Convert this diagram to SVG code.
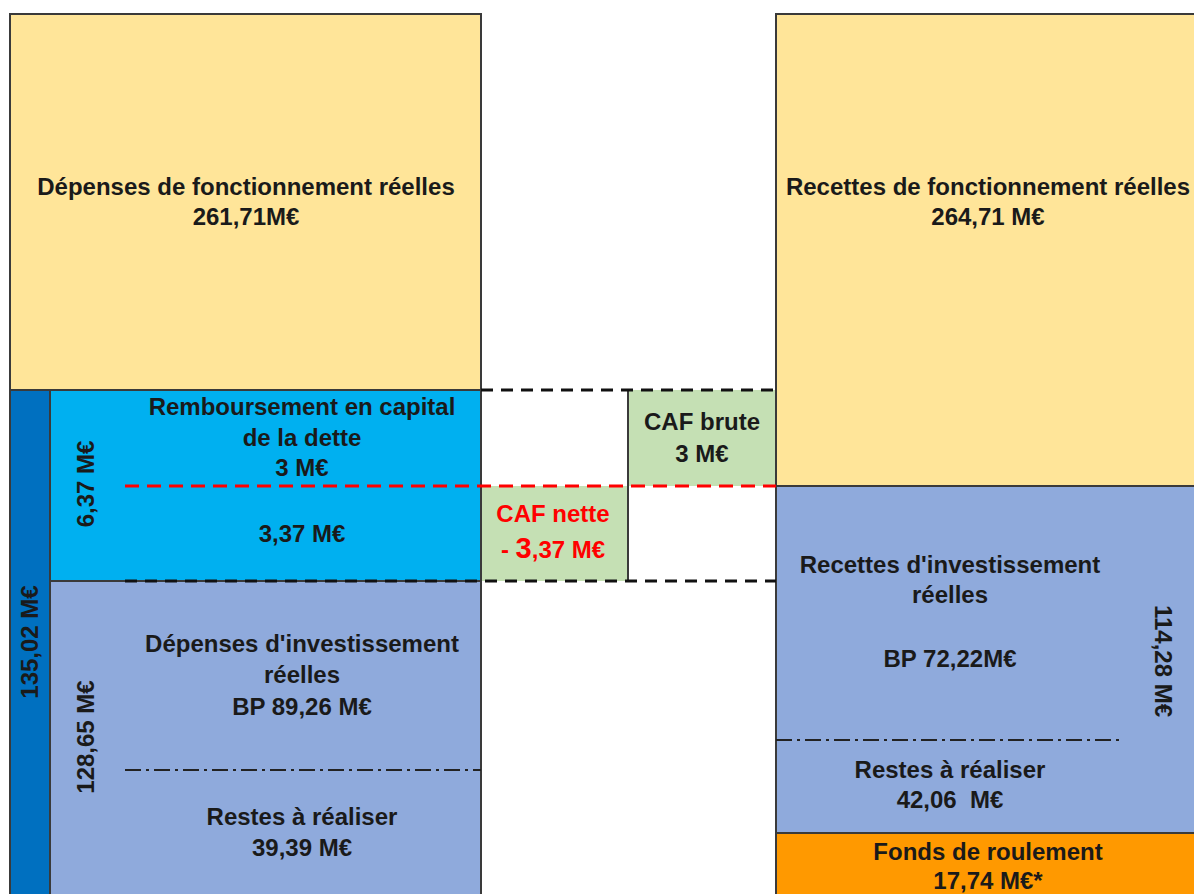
<svg xmlns="http://www.w3.org/2000/svg" width="1194" height="894" viewBox="0 0 1194 894">
<style>
.box{stroke:#3a3a3a;stroke-width:2}
.t{font-family:"Liberation Sans",Arial,sans-serif;font-weight:bold;font-size:24px;fill:#1a1a1a;text-anchor:middle}
.red{fill:#ff0000}
.dk{stroke:#111;stroke-width:3;stroke-dasharray:12 8;fill:none}
.rd{stroke:#ff0000;stroke-width:3;stroke-dasharray:14 8;fill:none}
.dd{stroke:#222;stroke-width:2;stroke-dasharray:16 5 3 5;fill:none}
.ln{stroke:#3a3a3a;stroke-width:2;fill:none}
</style>
<rect width="1194" height="894" fill="#ffffff"/>
<g id="dep-fonct">
<rect class="box" x="10" y="14" width="471" height="376" fill="#ffe599"/>
<text class="t" x="246" y="195">Dépenses de fonctionnement réelles</text>
<text class="t" x="246" y="225">261,71M€</text>
</g>
<g id="rec-fonct">
<rect class="box" x="776" y="14" width="430" height="472" fill="#ffe599"/>
<text class="t" x="988" y="195">Recettes de fonctionnement réelles</text>
<text class="t" x="988" y="225">264,71 M€</text>
</g>
<g id="total-left">
<rect class="box" x="10" y="390" width="40" height="510" fill="#0070c0"/>
<text class="t" transform="translate(38,642) rotate(-90)">135,02 M€</text>
</g>
<g id="rembours">
<rect class="box" x="50" y="390" width="431" height="191" fill="#00b0f0"/>
<text class="t" x="302" y="415">Remboursement en capital</text>
<text class="t" x="302" y="446">de la dette</text>
<text class="t" x="302" y="476">3 M€</text>
<text class="t" x="302" y="542">3,37 M€</text>
<text class="t" transform="translate(94,484) rotate(-90)">6,37 M€</text>
</g>
<g id="dep-invest">
<rect class="box" x="50" y="581" width="431" height="320" fill="#8faadc"/>
<text class="t" x="302" y="652">Dépenses d'investissement</text>
<text class="t" x="302" y="683">réelles</text>
<text class="t" x="302" y="715">BP 89,26 M€</text>
<text class="t" x="302" y="825">Restes à réaliser</text>
<text class="t" x="302" y="856">39,39 M€</text>
<text class="t" transform="translate(94,737) rotate(-90)">128,65 M€</text>
</g>
<g id="rec-invest">
<rect class="box" x="776" y="486" width="430" height="347" fill="#8faadc"/>
<text class="t" x="950" y="573">Recettes d'investissement</text>
<text class="t" x="950" y="603">réelles</text>
<text class="t" x="950" y="667">BP 72,22M€</text>
<text class="t" x="950" y="778">Restes à réaliser</text>
<text class="t" x="950" y="808" xml:space="preserve">42,06  M€</text>
<text class="t" transform="translate(1155,661) rotate(90)">114,28 M€</text>
</g>
<g id="fonds-roulement">
<rect class="box" x="776" y="833" width="430" height="70" fill="#ff9900"/>
<text class="t" x="988" y="860" font-size="21">Fonds de roulement</text>
<text class="t" x="988" y="889">17,74 M€*</text>
</g>
<g id="caf-brute">
<rect x="628" y="390" width="148" height="96" fill="#c5e0b4"/>
<line class="ln" x1="628" y1="390" x2="628" y2="486"/>
<text class="t" x="702" y="430">CAF brute</text>
<text class="t" x="702" y="462">3 M€</text>
</g>
<g id="caf-nette">
<rect x="481" y="486" width="147" height="95" fill="#c5e0b4"/>
<line class="ln" x1="628" y1="486" x2="628" y2="581"/>
<text class="t red" x="553" y="522">CAF nette</text>
<text class="t red" x="553" y="558">- <tspan font-size="29">3</tspan>,37 M€</text>
</g>
<g id="connectors">
<line class="ln" x1="481" y1="390" x2="481" y2="894"/>
<line class="ln" x1="776" y1="14" x2="776" y2="894"/>
<line class="dk" x1="481" y1="390" x2="776" y2="390"/>
<line class="dk" x1="125" y1="581" x2="776" y2="581"/>
<line class="rd" x1="125" y1="486" x2="776" y2="486"/>
<line class="dd" x1="125" y1="770" x2="481" y2="770"/>
<line class="dd" x1="776" y1="740" x2="1122" y2="740"/>
</g>
</svg>
